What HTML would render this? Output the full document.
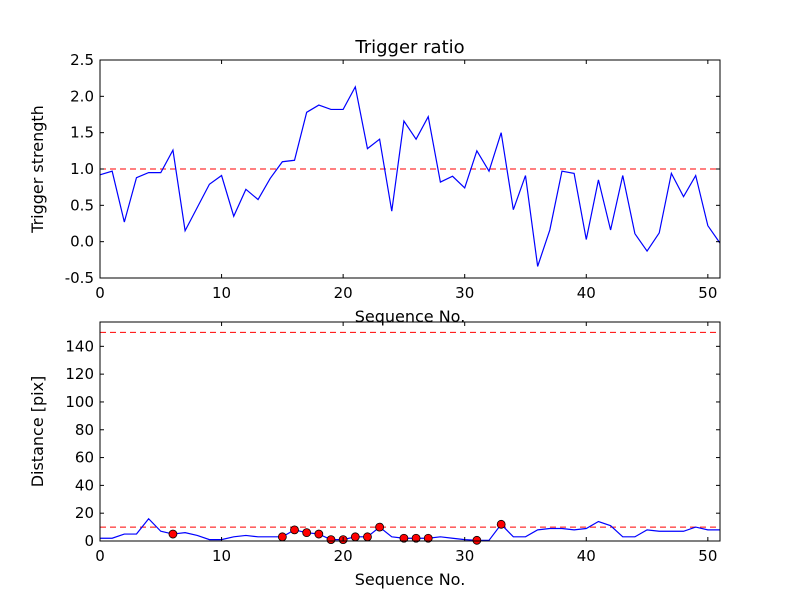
<!DOCTYPE html>
<html><head><meta charset="utf-8"><style>
body{margin:0;background:#fff}
svg text{font-family:"DejaVu Sans","Liberation Sans",sans-serif;fill:#000}
</style></head><body>
<svg id="chart" width="800" height="600" xmlns="http://www.w3.org/2000/svg">
<rect width="800" height="600" fill="#fff"/>
<text x="410" y="53" font-size="18" text-anchor="middle">Trigger ratio</text>
<g id="top"></g><g id="bot"></g>
</svg>
<script>
const seq = Array.from({length:52},(_,i)=>i);
const ratio = [0.92,0.97,0.27,0.88,0.95,0.95,1.26,0.15,0.47,0.79,0.91,0.35,0.72,0.58,0.87,1.10,1.12,1.78,1.88,1.82,1.82,2.13,1.28,1.41,0.42,1.66,1.41,1.72,0.82,0.90,0.74,1.25,0.97,1.50,0.44,0.91,-0.34,0.16,0.97,0.94,0.03,0.85,0.16,0.91,0.11,-0.13,0.12,0.94,0.62,0.91,0.22,-0.02];
const dist = [2,2,5,5,16,7,5,6,4,1,1,3,4,3,3,3,8,6,5,1,1,3,3,10,3,2,2,2,3,2,1,0.5,0.5,12,3,3,8,9,9,8,9,14,11,3,3,8,7,7,7,10,8,8];
const markIdx = [6,15,16,17,18,19,20,21,22,23,25,26,27,31,33];
const topTicksY = [-0.5,0.0,0.5,1.0,1.5,2.0,2.5];
const botTicksY = [0,20,40,60,80,100,120,140];
const ticksX = [0,10,20,30,40,50];
const ratioThresh = 1.0;
const distThresh = [10,150];

const NS="http://www.w3.org/2000/svg";
function mk(p,tag,attrs){const e=document.createElementNS(NS,tag);for(const k in attrs)e.setAttribute(k,attrs[k]);p.appendChild(e);return e;}
function panel(g,y0,y1,ymin,ymax,yTicks,fmt,ylab,prefix){
  const x0=100,x1=720;
  const sx=v=>x0+(v-0)/(51-0)*(x1-x0);
  const sy=v=>y1-(v-ymin)/(ymax-ymin)*(y1-y0);
  return {sx,sy,draw(){
    const fr=mk(g,'rect',{x:x0,y:y0,width:x1-x0,height:y1-y0,fill:'none',stroke:'#000','stroke-width':1});
    
    yTicks.forEach(t=>{const y=sy(t);
      mk(g,'line',{x1:x0,x2:x0+4,y1:y,y2:y,stroke:'#000'});mk(g,'line',{x1:x1-4,x2:x1,y1:y,y2:y,stroke:'#000'});
      const tx=mk(g,'text',{x:x0-6,y:y+5,'font-size':15,'text-anchor':'end'});tx.textContent=fmt(t);
      });
    ticksX.forEach(t=>{const x=sx(t);
      mk(g,'line',{x1:x,x2:x,y1:y1,y2:y1-4,stroke:'#000'});mk(g,'line',{x1:x,x2:x,y1:y0,y2:y0+4,stroke:'#000'});
      const tx=mk(g,'text',{x:x,y:y1+20,'font-size':15,'text-anchor':'middle'});tx.textContent=t;
      });
    const xl=mk(g,'text',{x:410,y:y1+44,'font-size':16,'text-anchor':'middle'});xl.textContent='Sequence No.';
    
    const yl=mk(g,'text',{x:0,y:0,'font-size':16,'text-anchor':'middle',transform:`translate(43,${(y0+y1)/2}) rotate(-90)`});yl.textContent=ylab;
    
  }};
}
const gt=document.getElementById('top'),gb=document.getElementById('bot');
const T=panel(gt,60,278,-0.5,2.5,topTicksY,v=>v.toFixed(1),'Trigger strength','top');
const B=panel(gb,322,541,0,157.5,botTicksY,v=>String(v),'Distance [pix]','bottom');
// top series
let th=mk(gt,'line',{x1:100,x2:720,y1:T.sy(ratioThresh),y2:T.sy(ratioThresh),stroke:'#f00','stroke-dasharray':'6,4'});

let pl=mk(gt,'polyline',{points:seq.map((s,i)=>T.sx(s)+','+T.sy(ratio[i])).join(' '),fill:'none',stroke:'#00f','stroke-width':1.2});

T.draw();
// bottom series
distThresh.forEach(v=>{const l=mk(gb,'line',{x1:100,x2:720,y1:B.sy(v),y2:B.sy(v),stroke:'#f00','stroke-dasharray':'6,4'});
  });
let bl=mk(gb,'polyline',{points:seq.map((s,i)=>B.sx(s)+','+B.sy(dist[i])).join(' '),fill:'none',stroke:'#00f','stroke-width':1.2});

markIdx.forEach(i=>{const c=mk(gb,'circle',{cx:B.sx(seq[i]),cy:B.sy(dist[i]),r:4,fill:'#f00',stroke:'#000','stroke-width':0.8});
  });
B.draw();
</script>
</body></html>
